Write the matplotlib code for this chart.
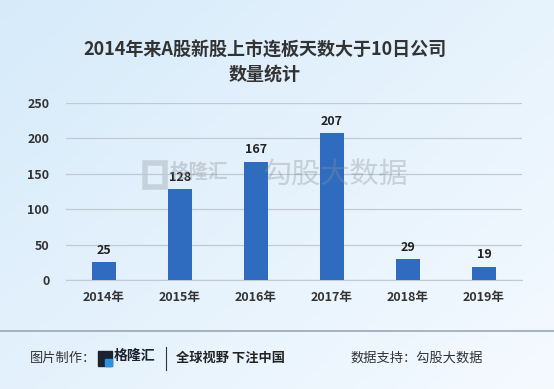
import matplotlib
matplotlib.use('Agg')
import matplotlib.pyplot as plt
import numpy as np
from matplotlib.patches import Rectangle

plt.rcParams['font.family'] = ['Noto Sans CJK SC', 'DejaVu Sans']

years = ['2014年', '2015年', '2016年', '2017年', '2018年', '2019年']
counts = [25, 128, 167, 207, 29, 19]
yticks = [0, 50, 100, 150, 200, 250]
title = '2014年来A股新股上市连板天数大于10日公司\n数量统计'

W, H = 554, 389
fig = plt.figure(figsize=(W / 100, H / 100), dpi=100)

# background gradient
bg = fig.add_axes([0, 0, 1, 1])
gx = np.linspace(0, 1, 200)
gy = np.linspace(0, 1, 200)
X, Y = np.meshgrid(gx, gy)
grad = 0.55 * X + 0.45 * Y
c1 = np.array([0.84, 0.92, 0.98])
c2 = np.array([0.96, 0.98, 1.0])
img = c1[None, None, :] * (1 - grad[..., None]) + c2[None, None, :] * grad[..., None]
bg.imshow(img, extent=[0, 1, 0, 1], aspect='auto', origin='upper')
bg.set_xlim(0, 1)
bg.set_ylim(0, 1)
bg.axis('off')

# footer separator
bg.plot([0, 1], [1 - 331 / H, 1 - 331 / H], color='#9aa7b3', lw=1.2)

fig.text(265 / W, 1 - 62 / H, title, ha='center', va='center', fontsize=13,
         fontweight='bold', color='#333333', linespacing=1.3)

ax = fig.add_axes([66 / W, 1 - 280 / H, 456 / W, 177 / H])
ax.patch.set_alpha(0)
x = np.arange(len(years))
bars = ax.bar(x, counts, width=0.32, color='#2f6cc0', zorder=3)
for xi, v in zip(x, counts):
    ax.text(xi, v + 8, str(v), ha='center', va='bottom', fontsize=9,
            fontweight='bold', color='#222222', zorder=4)
ax.set_xlim(-0.5, len(years) - 0.5)
ax.set_ylim(0, 250)
ax.set_yticks(yticks)
ax.set_xticks(x)
ax.set_xticklabels(years, fontweight='bold')
ax.set_yticklabels([str(t) for t in yticks], fontweight='bold')
ax.tick_params(axis='both', length=0, labelsize=9, colors='#333333')
ax.tick_params(axis='y', pad=12)
ax.tick_params(axis='x', pad=8)
ax.grid(axis='y', color='#c2c9d0', lw=0.9, zorder=0)
for s in ['top', 'right', 'left']:
    ax.spines[s].set_visible(False)
ax.spines['bottom'].set_color('#c2c9d0')

# watermark
fig.text(263 / W, 1 - 176 / H, '勾股大数据', fontsize=21, color='#8a8f94', alpha=0.35,
         ha='left', va='center')
fig.text(170 / W, 1 - 172 / H, '格隆汇', fontsize=14, color='#8a8f94', alpha=0.35,
         ha='left', va='center', fontweight='bold')
bg.add_patch(Rectangle((145 / W, 1 - 187 / H), 20 / W, 24 / H, fill=False,
                       ec='#8a8f94', lw=4, alpha=0.3))
bg.plot([258 / W, 258 / W], [1 - 163 / H, 1 - 190 / H], color='#8a8f94', alpha=0.3, lw=1)

# footer
fy = 1 - 358 / H
fig.text(30 / W, fy, '图片制作：', fontsize=9.5, color='#333333', va='center')
bg.add_patch(Rectangle((98 / W, 1 - 366 / H), 14 / W, 15 / H, color='#1c2230'))
bg.add_patch(Rectangle((105 / W, 1 - 366 / H), 7 / W, 7 / H, color='#2f8fe0'))
fig.text(114 / W, fy + 0.004, '格隆汇', fontsize=10, color='#1c2230', va='center', fontweight='bold')
bg.plot([166 / W, 166 / W], [1 - 347 / H, 1 - 370 / H], color='#333333', lw=0.8)
fig.text(176 / W, fy, '全球视野 下注中国', fontsize=9.5, color='#222222', va='center',
         fontweight='bold')
fig.text(350 / W, fy, '数据支持：勾股大数据', fontsize=9.5, color='#333333', va='center')

fig.savefig('out.png', dpi=100)
